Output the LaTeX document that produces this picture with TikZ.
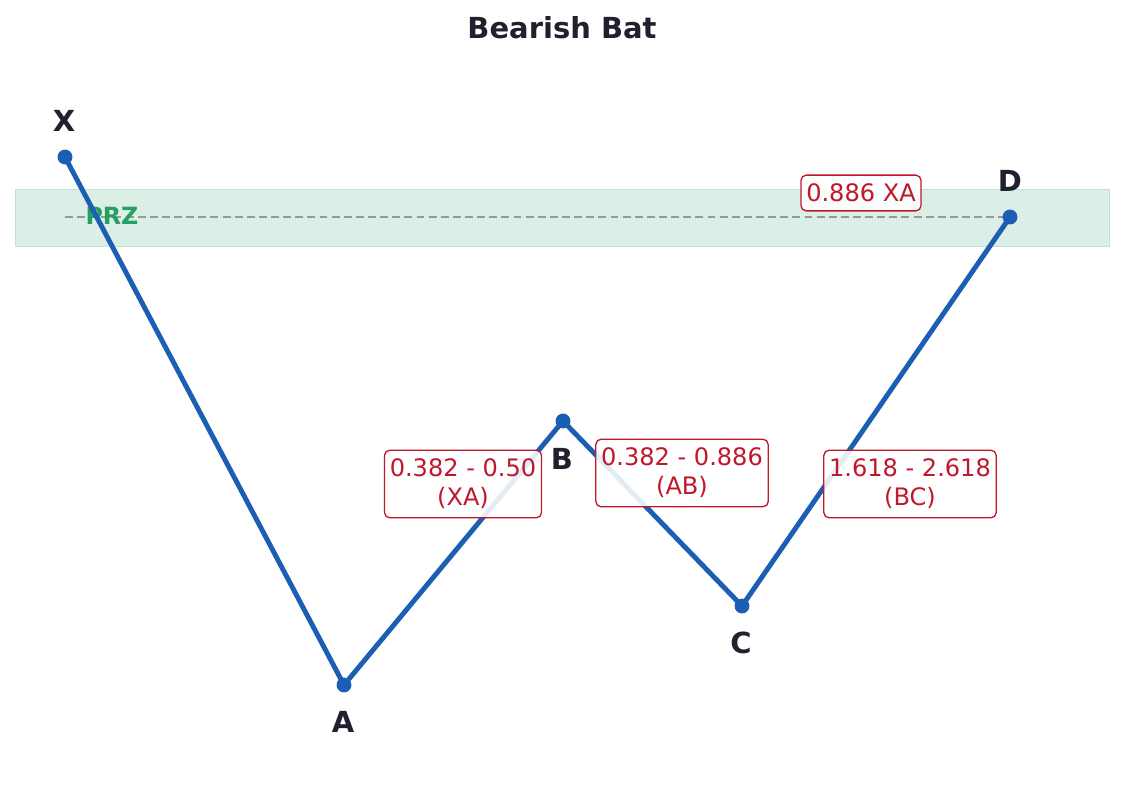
\documentclass[tikz,border=0pt]{standalone}
\usepackage{fontspec}
\setmainfont{DejaVu Sans}
\usetikzlibrary{
    arrows.meta,
    positioning,
    calc
}
\definecolor{legblue}{HTML}{1B5EB3}
\definecolor{ratiored}{HTML}{C0182B}
\definecolor{inkdark}{HTML}{22202E}
\definecolor{przgreen}{HTML}{23A062}
\definecolor{przfill}{HTML}{DCEFE6}
\definecolor{przedge}{HTML}{BFE3D2}
\tikzset{
    % --- Pattern leg (X-A-B-C-D) ---
    leg/.style = {
        draw=legblue, line width=2.8pt, line join=round
    },
    % --- Pivot dot ---
    pivot/.style = {
        circle, fill=legblue,
        minimum size=8.5pt, inner sep=0pt
    },
    % --- Pivot letter ---
    pivot label/.style = {
        font=\fontsize{16.5}{19}\selectfont\bfseries,
        text=inkdark
    },
    % --- Fibonacci ratio box ---
    ratio/.style = {
        rectangle, draw=ratiored, line width=0.75pt, rounded corners=3pt,
        fill=white, fill opacity=0.88, text opacity=1,
        text=ratiored, align=center,
        font=\fontsize{13.7}{16.5}\selectfont,
        inner xsep=3pt, inner ysep=5pt
    },
    % --- PRZ band ---
    prz band/.style = {
        draw=przedge, fill=przfill, thin
    },
    % --- PRZ level line ---
    prz level/.style = {
        draw=black!40, line width=1.3pt,
        dash pattern=on 4.5pt off 2.4pt
    },
    % --- PRZ tag ---
    prz tag/.style = {
        font=\fontsize{13.5}{16}\selectfont\bfseries,
        text=przgreen
    }
}

\begin{document}
\begin{tikzpicture}[x=0.02cm, y=-0.02cm]

\useasboundingbox (0,0) rectangle (1125,795);

% ---------------------------------------------------------
% Title
% ---------------------------------------------------------
\node[font=\fontsize{16.5}{19}\selectfont\bfseries, text=inkdark]
    (Title) at (562,28) {Bearish Bat};

% ---------------------------------------------------------
% PRZ band
% ---------------------------------------------------------
\draw[prz band] (15,189) rectangle (1109,246);

% ---------------------------------------------------------
% Pivots
% ---------------------------------------------------------
\coordinate (X) at (65,157);
\coordinate (A) at (344,685);
\coordinate (B) at (563,421);
\coordinate (C) at (742,606);
\coordinate (D) at (1010,217);

% PRZ level
\draw[prz level] (X |- D) -- (D);
\node[prz tag] (PRZ) at (112,216) {PRZ};

% Legs
\draw[leg] (X) -- (A) -- (B) -- (C) -- (D);

\foreach \p in {X, A, B, C, D}
    \node[pivot] (dot\p) at (\p) {};

% ---------------------------------------------------------
% Pivot letters
% ---------------------------------------------------------
\node[pivot label] (LabX) at (64,121) {X};
\node[pivot label] (LabA) at (343,722) {A};
\node[pivot label] (LabB) at (562,459) {B};
\node[pivot label] (LabC) at (741,643) {C};
\node[pivot label] (LabD) at (1010,181) {D};

% ---------------------------------------------------------
% Ratios
% ---------------------------------------------------------
\node[ratio] (RatXA) at (463,484) {0.382 - 0.50\\(XA)};
\node[ratio] (RatAB) at (682,473) {0.382 - 0.886\\(AB)};
\node[ratio] (RatBC) at (910,484) {1.618 - 2.618\\(BC)};
\node[ratio] (RatD)  at (861,193) {0.886 XA};

\end{tikzpicture}
\end{document}
